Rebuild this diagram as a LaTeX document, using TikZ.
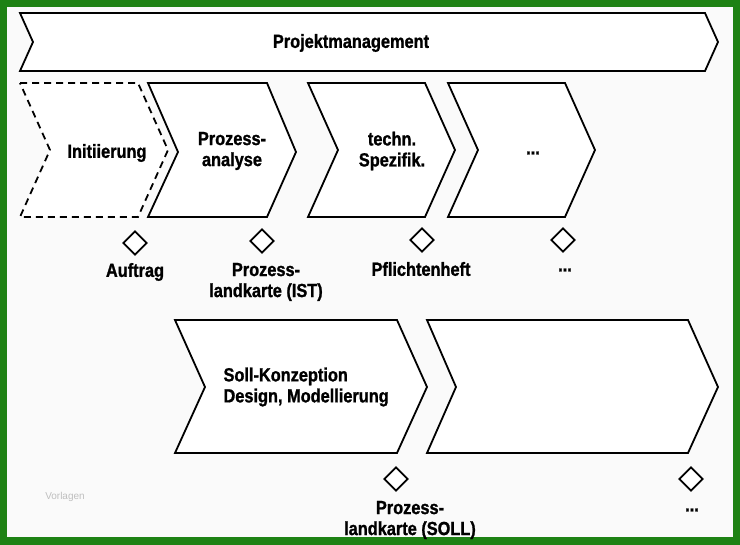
\documentclass[tikz,border=0pt]{standalone}
\usepackage{fontspec}
\usetikzlibrary{shapes.geometric}
\setmainfont{Liberation Sans}[FakeStretch=0.86,BoldFeatures={FakeBold=1.2}]
\newfontfamily\plainfont{Liberation Sans}
\begin{document}
\begin{tikzpicture}[x=1pt,y=-1pt,
  chev/.style={draw=black,line width=1.8pt,line join=miter,fill=white},
  dchev/.style={chev,dash pattern=on 7pt off 5pt},
  dia/.style={draw=black,line width=1.8pt,fill=white,minimum size=24pt,inner sep=0pt,shape=diamond},
  lbl/.style={font=\bfseries\fontsize{19}{21}\selectfont,align=center,text=black}]
\useasboundingbox (0,0) rectangle (740,545);
\fill[color={rgb,255:red,30;green,130;blue,20}] (0,0) rectangle (740,545);
\fill[white!98!black] (7,7) rectangle (733,537);
\draw[chev] (20,13) -- (705,13) -- (718,42) -- (705,71) -- (20,71) -- (33,42) -- cycle;
\node[lbl] (pm) at (351,43) {Projektmanagement};
\draw[dchev] (20,83) -- (138,83) -- (168,150) -- (138,217) -- (20,217) -- (50,150) -- cycle;
\draw[chev] (148,83) -- (267,83) -- (296,152) -- (267,217) -- (148,217) -- (178,152) -- cycle;
\draw[chev] (308,83) -- (425,83) -- (455,150) -- (425,217) -- (308,217) -- (338,150) -- cycle;
\draw[chev] (448,83) -- (565,83) -- (595,150) -- (565,217) -- (448,217) -- (478,150) -- cycle;
\draw[chev] (175,320) -- (397,320) -- (427,387) -- (397,453) -- (175,453) -- (205,387) -- cycle;
\draw[chev] (427,320) -- (688,320) -- (718,387) -- (688,453) -- (427,453) -- (456,387) -- cycle;
\node[lbl] (ini) at (107,153) {Initiierung};
\node[lbl] (pa) at (232,151) {Prozess-\\analyse};
\node[lbl] (ts) at (392,151) {techn.\\Spezifik.};
\node[lbl] (dots1) at (533,153) {...};
\node[lbl,align=left,anchor=west] (sk) at (220,387) {Soll-Konzeption\\Design, Modellierung};
\node[dia] (d1) at (135,243) {};
\node[dia] (d2) at (262,241) {};
\node[dia] (d3) at (422,240) {};
\node[dia] (d4) at (563,240) {};
\node[dia] (d5) at (396,479) {};
\node[dia] (d6) at (691,479) {};
\node[lbl] (l1) at (135,272) {Auftrag};
\node[lbl] (l2) at (266,282) {Prozess-\\landkarte (IST)};
\node[lbl] (l3) at (421,269) {Pflichtenheft};
\node[lbl] (l4) at (565,270) {...};
\node[lbl] (l5) at (410,520) {Prozess-\\landkarte (SOLL)};
\node[lbl] (l6) at (692,510) {...};
\node[font=\plainfont\fontsize{10}{12}\selectfont,text=black!25] (v) at (65,497) {Vorlagen};
\end{tikzpicture}
\end{document}
